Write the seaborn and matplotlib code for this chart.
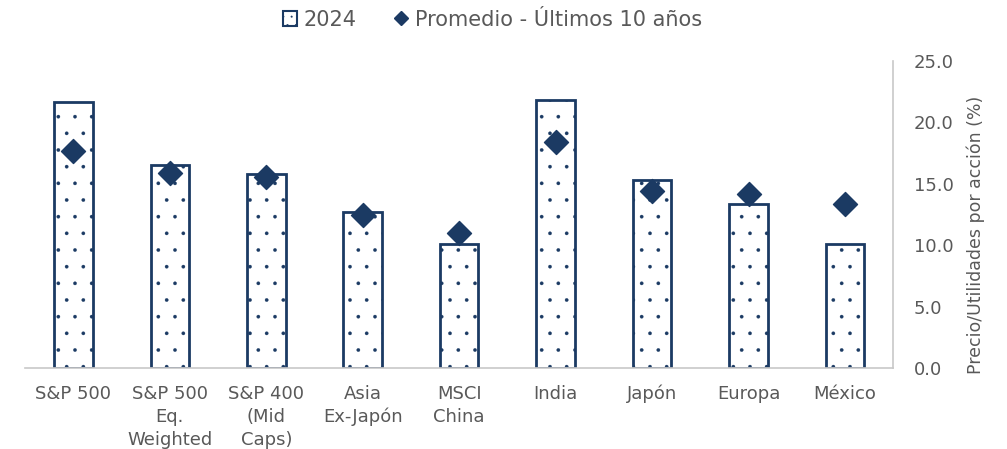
import matplotlib
matplotlib.use("Agg")
import matplotlib.pyplot as plt
from matplotlib.ticker import FixedLocator, MultipleLocator, FormatStrFormatter
from matplotlib.patches import Patch
from matplotlib.lines import Line2D
import seaborn as sns
import pandas as pd

# Datos
categorias = ["S&P 500", "S&P 500\nEq.\nWeighted", "S&P 400\n(Mid\nCaps)", "Asia\nEx-Japón",
              "MSCI\nChina", "India", "Japón", "Europa", "México"]
pe_2024 = [21.7, 16.5, 15.8, 12.7, 10.1, 21.8, 15.3, 13.4, 10.1]
pe_promedio = [17.7, 15.9, 15.6, 12.5, 11.0, 18.4, 14.4, 14.2, 13.4]

azul = "#1b3a63"
gris = "#c8c8c8"
texto = "#595959"

df = pd.DataFrame({"cat": categorias, "y2024": pe_2024, "prom": pe_promedio})

sns.set_style("white")
plt.rcParams["font.family"] = ["DejaVu Sans"]
plt.rcParams["hatch.color"] = azul
plt.rcParams["hatch.linewidth"] = 0.2

fig = plt.figure(figsize=(10.07, 4.49), dpi=100)
ax = fig.add_axes([0.025, 0.18, 0.862, 0.684])

sns.barplot(data=df, x="cat", y="y2024", ax=ax, color="white", width=0.4,
            edgecolor=azul, linewidth=2, saturation=1)
for p in ax.patches:
    p.set_hatch(".")
sns.scatterplot(data=df, x="cat", y="prom", ax=ax, marker="D", s=150,
                color=azul, edgecolor=azul, zorder=5)

ax.set_ylim(0, 25)
ax.set_xlim(-0.5, len(categorias) - 0.5)
ax.yaxis.tick_right()
ax.yaxis.set_label_position("right")
ax.yaxis.set_major_locator(MultipleLocator(5))
ax.yaxis.set_major_formatter(FormatStrFormatter("%.1f"))
ax.set_ylabel("Precio/Utilidades por acción (%)", fontsize=12.5, color=texto)
ax.yaxis.set_label_coords(1.085, 0.435)
ax.set_xlabel("")
ax.tick_params(axis="y", length=0, labelsize=13, labelcolor=texto, pad=15)
ax.tick_params(axis="x", which="major", length=0, labelsize=13, labelcolor=texto, pad=12)
for lbl in ax.get_xticklabels():
    lbl.set_linespacing(1.35)
ax.xaxis.set_minor_locator(FixedLocator([i - 0.5 for i in range(len(categorias) + 1)]))
ax.tick_params(axis="x", which="minor", length=6, color=gris, width=1.2)

for s in ["top", "left"]:
    ax.spines[s].set_visible(False)
ax.spines["bottom"].set_color(gris)
ax.spines["right"].set_color(gris)
ax.spines["bottom"].set_linewidth(1.2)
ax.spines["right"].set_linewidth(1.2)

handles = [Patch(facecolor="white", edgecolor=azul, hatch="..", linewidth=1.5, label="2024"),
           Line2D([], [], marker="D", color=azul, linestyle="none", markersize=7,
                  label="Promedio - Últimos 10 años")]
fig.legend(handles=handles, loc="upper center", bbox_to_anchor=(0.489, 1.02), ncol=2,
           frameon=False, fontsize=15, handlelength=0.7, handleheight=0.7,
           handletextpad=0.3, columnspacing=1.8, labelcolor=texto)

fig.savefig("out.png", dpi=100)
